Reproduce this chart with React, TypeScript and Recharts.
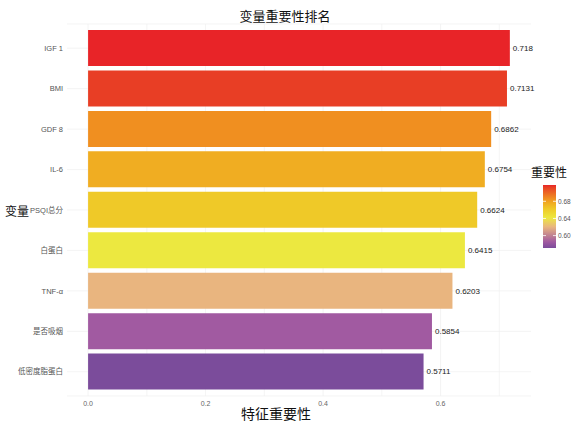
import React from "react";
import { Bar, BarChart, CartesianGrid, Cell, LabelList, XAxis, YAxis } from "recharts";

const variables = [
  "IGF 1",
  "BMI",
  "GDF 8",
  "IL-6",
  "PSQI总分",
  "白蛋白",
  "TNF-α",
  "是否吸烟",
  "低密度脂蛋白"
];
const importance = [0.718, 0.7131, 0.6862, 0.6754, 0.6624, 0.6415, 0.6203, 0.5854, 0.5711];
const barColors = [
  "#e82428",
  "#e83e25",
  "#f08f20",
  "#f0ad22",
  "#efc928",
  "#ece840",
  "#e9b57f",
  "#a15aa1",
  "#7b4c9b"
];
const xTicks = [0, 0.2, 0.4, 0.6];
const xGrid = [0, 0.1, 0.2, 0.3, 0.4, 0.5, 0.6, 0.7];
const legendTicks = [0.68, 0.64, 0.6];

const X_MIN = -0.0359;
const X_MAX = 0.754;
const FONT = "'Liberation Sans', 'Noto Sans CJK SC', sans-serif";
const CJK = "'Noto Sans CJK SC', sans-serif";

const rows = variables.map((name, i) => ({ name, value: importance[i] }));

// colour bar geometry
const BAR_X = 543;
const BAR_TOP = 185;
const BAR_W = 13;
const BAR_H = 63;
const vMax = Math.max(...importance);
const vMin = Math.min(...importance);
const legendY = (v: number) => BAR_TOP + ((vMax - v) / (vMax - vMin)) * BAR_H;

function gridX({ xAxis, offset }: any) {
  const scale = xAxis?.scale;
  return xGrid.map((v) =>
    typeof scale === "function"
      ? scale(v)
      : offset.left + ((v - X_MIN) / (X_MAX - X_MIN)) * offset.width
  );
}

function Overlay() {
  const stops = importance
    .map((v, i) => ({ v, c: barColors[i] }))
    .sort((a, b) => b.v - a.v);
  return (
    <svg
      width={571}
      height={425}
      style={{ position: "absolute", left: 0, top: 0, pointerEvents: "none" }}
    >
      <defs>
        <linearGradient id="imp" x1="0" y1="0" x2="0" y2="1">
          {stops.map((s, i) => (
            <stop key={i} offset={(vMax - s.v) / (vMax - vMin)} stopColor={s.c} />
          ))}
        </linearGradient>
      </defs>
      <text x={285} y={21} textAnchor="middle" fontSize={13} fill="#111" fontFamily={CJK}>
        变量重要性排名
      </text>
      <text x={276} y={419} textAnchor="middle" fontSize={14} fill="#111" fontFamily={CJK}>
        特征重要性
      </text>
      <text x={5} y={216} fontSize={12} fill="#111" fontFamily={CJK}>
        变量
      </text>
      <text x={531} y={177} fontSize={12} fill="#111" fontFamily={CJK}>
        重要性
      </text>
      <rect x={BAR_X} y={BAR_TOP} width={BAR_W} height={BAR_H} fill="url(#imp)" />
      {legendTicks.map((t) => (
        <g key={t}>
          <line x1={BAR_X} x2={BAR_X + 3} y1={legendY(t)} y2={legendY(t)} stroke="#fff" strokeWidth={0.8} />
          <line x1={BAR_X + BAR_W - 3} x2={BAR_X + BAR_W} y1={legendY(t)} y2={legendY(t)} stroke="#fff" strokeWidth={0.8} />
          <text x={558} y={legendY(t) + 2.3} fontSize={6.5} fill="#555" fontFamily={FONT}>
            {t.toFixed(2)}
          </text>
        </g>
      ))}
    </svg>
  );
}

export default function App() {
  return (
    <div
      style={{
        position: "absolute",
        left: 0,
        top: 0,
        width: 571,
        height: 425,
        background: "#ffffff",
        fontFamily: FONT,
        overflow: "hidden"
      }}
    >
      <BarChart
        width={571}
        height={425}
        data={rows}
        layout="vertical"
        margin={{ top: 24, right: 40, bottom: 0, left: 0 }}
        barCategoryGap="5%"
      >
        <CartesianGrid
          stroke="#efefef"
          strokeWidth={0.7}
          verticalCoordinatesGenerator={gridX}
        />
        <XAxis
          type="number"
          domain={[X_MIN, X_MAX]}
          ticks={xTicks}
          allowDataOverflow
          tickFormatter={(v: number) => v.toFixed(1)}
          tickLine={false}
          axisLine={false}
          tickSize={0}
          tickMargin={5}
          height={29}
          tick={{ fill: "#666", fontSize: 7 }}
        />
        <YAxis
          type="category"
          dataKey="name"
          width={67}
          padding={{ top: 4, bottom: 4 }}
          tickLine={false}
          axisLine={false}
          tickSize={0}
          tickMargin={4}
          interval={0}
          tick={{ fill: "#555", fontSize: 7.5 }}
        />
        <Bar dataKey="value" isAnimationActive={false}>
          {rows.map((r, i) => (
            <Cell key={r.name} fill={barColors[i]} />
          ))}
          <LabelList
            dataKey="value"
            position="right"
            offset={3}
            fill="#1a1a1a"
            fontSize={8}
          />
        </Bar>
      </BarChart>
      <Overlay />
    </div>
  );
}
